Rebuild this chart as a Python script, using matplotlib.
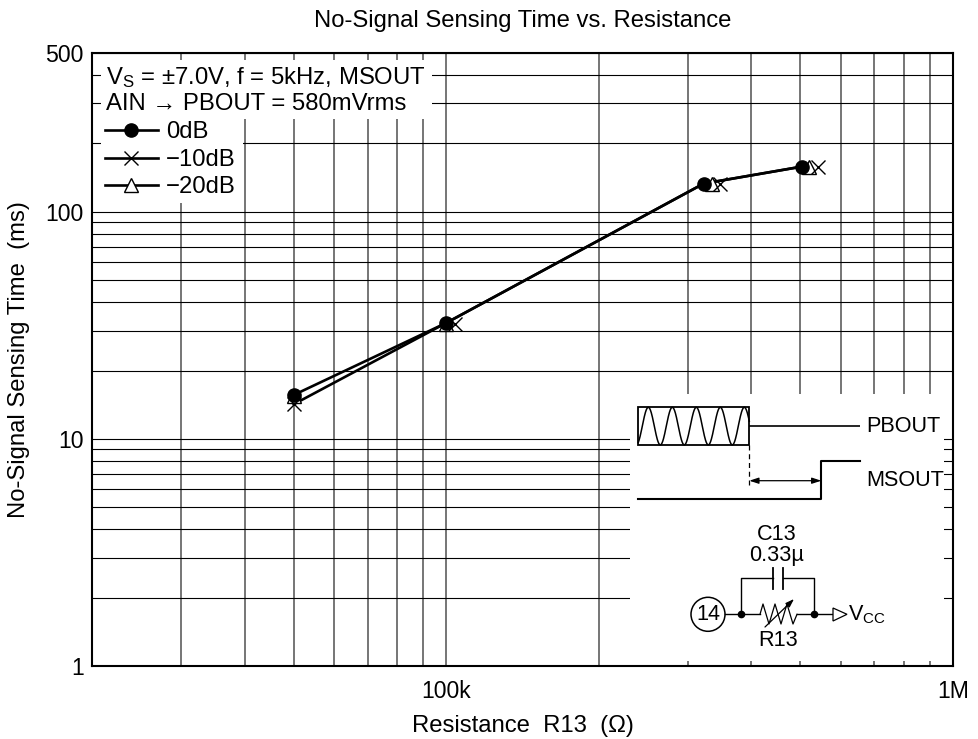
import numpy as np
import matplotlib
matplotlib.use("Agg")
import matplotlib.pyplot as plt
from matplotlib.lines import Line2D
from matplotlib.patches import Rectangle, Circle, Polygon
from matplotlib.ticker import FixedLocator, NullFormatter

plt.rcParams['font.family'] = ['Liberation Sans', 'DejaVu Sans']
plt.rcParams['mathtext.fontset'] = 'custom'
plt.rcParams['mathtext.rm'] = 'Liberation Sans'
plt.rcParams['mathtext.it'] = 'Liberation Sans'

# Data: marker positions
r_0db = [50e3, 100e3, 322e3, 503e3]
t_0db = [15.6, 32.4, 133, 158]
r_10db = [50e3, 104e3, 347e3, 541e3]
t_10db = [14.2, 32.2, 133, 158]
r_20db = [50e3, 100e3, 334e3, 519e3]
t_20db = [15.5, 32.2, 133, 158]
# The drawn curves run through the 0dB resistances
curve_r = [50e3, 100e3, 322e3, 503e3]
curve_t_upper = [15.6, 32.4, 133, 158]
curve_t_lower = [14.2, 32.4, 133, 158]

x_major = [100e3, 1e6]
x_major_labels = ['100k', '1M']
x_minor = [30e3, 40e3, 50e3, 60e3, 70e3, 80e3, 90e3, 200e3, 300e3, 400e3, 500e3, 600e3, 700e3, 800e3, 900e3]
y_major = [1, 10, 100, 500]
y_major_labels = ['1', '10', '100', '500']
y_minor = [2, 3, 4, 5, 6, 7, 8, 9, 20, 30, 40, 50, 60, 70, 80, 90, 200, 300, 400]

W, H = 979, 739
FS = 17.2
FT = 16.6
FC = 15.6
fig = plt.figure(figsize=(W / 100, H / 100), dpi=100, facecolor='white')
L, R, T, B = 92, 953, 53, 666
ax = fig.add_axes([L / W, 1 - B / H, (R - L) / W, (B - T) / H])
ax.set_xscale('log')
ax.set_yscale('log')
ax.set_xlim(20e3, 1e6)
ax.set_ylim(1, 500)

ax.xaxis.set_major_locator(FixedLocator(x_major))
ax.xaxis.set_minor_locator(FixedLocator(x_minor))
ax.yaxis.set_major_locator(FixedLocator(y_major))
ax.yaxis.set_minor_locator(FixedLocator(y_minor))
ax.set_xticklabels(x_major_labels, fontsize=FT)
ax.set_yticklabels(y_major_labels, fontsize=FT)
ax.xaxis.set_minor_formatter(NullFormatter())
ax.yaxis.set_minor_formatter(NullFormatter())
ax.tick_params(which='both', length=0)
ax.tick_params(axis='x', which='major', pad=10)
ax.tick_params(axis='y', which='major', pad=6)
ax.set_axisbelow(True)
ax.xaxis.grid(True, which='both', color='#505050', lw=1.1, zorder=1)
ax.yaxis.grid(True, which='both', color='black', lw=0.8, zorder=1)
for s in ax.spines.values():
    s.set_linewidth(1.5)
    s.set_zorder(10)

ax.set_title('No-Signal Sensing Time vs. Resistance', fontsize=FS, pad=18.5)
ax.set_xlabel('Resistance  R13  (Ω)', fontsize=FS, labelpad=8.5)
ax.set_ylabel('No-Signal Sensing Time  (ms)', fontsize=FS, labelpad=11)

# Overlay in pixel coordinates for the blanked regions and the schematic
ov = fig.add_axes([0, 0, 1, 1], zorder=0.5)
ov.set_xlim(0, W)
ov.set_ylim(H, 0)
ov.axis('off')
ov.patch.set_alpha(0)

for (x0, y0, x1, y1) in [(101, 60, 432, 119), (101, 119, 243, 203), (630, 394, 944, 661)]:
    ov.add_patch(Rectangle((x0, y0), x1 - x0, y1 - y0, fc='white', ec='none', zorder=1))

# Series on a top axes sharing the data scales
top = fig.add_axes(ax.get_position(), zorder=2, sharex=ax, sharey=ax)
top.patch.set_alpha(0)
top.axis('off')
LW = 1.9
top.plot(curve_r, curve_t_lower, '-', color='black', lw=LW, zorder=2)
top.plot(curve_r, curve_t_upper, '-', color='black', lw=LW, zorder=2)
style_20 = dict(color='black', marker='^', ms=10, mfc='white', mew=1.0)
style_10 = dict(color='black', marker='x', ms=9.5, mew=1.0)
style_0 = dict(color='black', marker='o', ms=9.5, mec='black', mfc='black')
top.plot(r_20db, t_20db, ls='none', zorder=3, **style_20)
top.plot(r_10db, t_10db, ls='none', zorder=4, **style_10)
top.plot(r_0db, t_0db, ls='none', zorder=5, **style_0)

handles = [Line2D([], [], lw=LW, label='0dB', **style_0),
           Line2D([], [], lw=LW, label='−10dB', **style_10),
           Line2D([], [], lw=LW, label='−20dB', **style_20)]
leg = top.legend(handles=handles, loc='upper left', bbox_to_anchor=(105 / W, 1 - 121.5 / H),
                 bbox_transform=fig.transFigure, frameon=False, fontsize=FS, borderpad=0,
                 borderaxespad=0, handlelength=2.2, handletextpad=0.36, labelspacing=0.225)

# Header lines
ov.text(106, 78, r'V$_{\mathrm{S}}$ = ±7.0V, f = 5kHz, MSOUT', fontsize=FS, va='center', ha='left', zorder=5)
ov.text(106, 104, 'AIN → PBOUT = 580mVrms', fontsize=FS, va='center', ha='left', zorder=5)

# Waveform schematic
lk = dict(color='black', lw=1.2, zorder=5, solid_capstyle='butt')
ov.add_patch(Rectangle((638.3, 407.3), 111, 37.7, fc='none', ec='black', lw=1.3, zorder=5))
wave_x = np.linspace(638.3, 749.3, 300)
ov.plot(wave_x, 426.1 - 18.8 * np.cos(2 * np.pi * (wave_x - 648.3) / 24), color='black', lw=1.1, zorder=5)
ov.plot([749.3, 860], [426, 426], **lk)
ov.plot([749.3, 749.3], [445, 485], color='black', lw=0.9, ls=(0, (4, 3)), zorder=5)
ov.plot([638, 821.3, 821.3, 860], [499, 499, 461.3, 461.3], color='black', lw=1.5, zorder=5)
ov.annotate('', xy=(749.3, 480.7), xytext=(821.3, 480.7),
            arrowprops=dict(arrowstyle='<|-|>,head_length=0.55,head_width=0.18', color='black', lw=0.9, shrinkA=0, shrinkB=0), zorder=5)
ov.text(866, 426, 'PBOUT', fontsize=FC, va='center', ha='left', zorder=5)
ov.text(866, 481, 'MSOUT', fontsize=FC, va='center', ha='left', zorder=5,
        bbox=dict(fc='white', ec='none', pad=0))

# Circuit schematic
ov.text(777, 535, 'C13', fontsize=FC, ha='center', va='center', zorder=5)
ov.text(777, 556, '0.33µ', fontsize=FC, ha='center', va='center', zorder=5)
thin = dict(color='black', lw=1.0, zorder=5)
ov.plot([741, 741, 772.7], [614.3, 578.3, 578.3], **thin)
ov.plot([782.7, 814, 814], [578.3, 578.3, 614.3], **thin)
ov.plot([772.7, 772.7], [568, 589], color='black', lw=1.3, zorder=5)
ov.plot([782.7, 782.7], [568, 589], color='black', lw=1.3, zorder=5)
ov.add_patch(Circle((708, 614.3), 17, fc='white', ec='black', lw=1.1, zorder=5))
ov.text(708, 614.8, '14', fontsize=FC, ha='center', va='center', zorder=6)
ov.plot([725, 760], [614.3, 614.3], **thin)
ov.plot([797, 833], [614.3, 614.3], **thin)
ov.plot([760, 763, 769, 775, 781, 787, 793, 797],
        [614.3, 604, 624, 604, 624, 604, 624, 614.3], color='black', lw=0.9, zorder=5)
ov.annotate('', xy=(794, 599), xytext=(765, 627),
            arrowprops=dict(arrowstyle='-|>,head_length=0.5,head_width=0.17', color='black', lw=0.9, shrinkA=0, shrinkB=0), zorder=5)
ov.plot([741, 814], [614.3, 614.3], ls='none', marker='o', ms=4.5, color='black', zorder=6)
ov.add_patch(Polygon([(833, 608), (833, 621), (847, 614.3)], closed=True, fc='white', ec='black', lw=0.9, zorder=5))
ov.text(848, 615, r'V$_{\mathrm{CC}}$', fontsize=FC, ha='left', va='center', zorder=5)
ov.text(778, 641, 'R13', fontsize=FC, ha='center', va='center', zorder=5)

fig.savefig('out.png', dpi=100)
